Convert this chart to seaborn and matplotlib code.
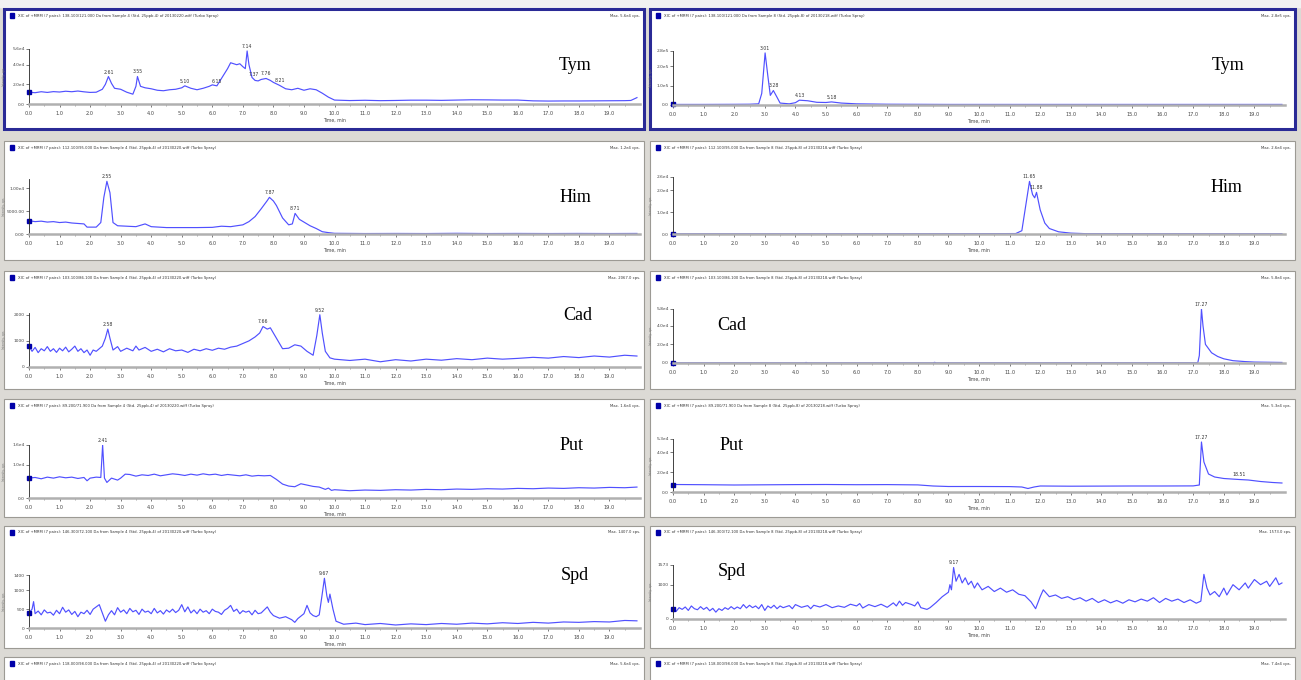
import numpy as np
import matplotlib
matplotlib.use("Agg")
import matplotlib.pyplot as plt
from matplotlib.patches import Rectangle
import seaborn as sns

# ---------------- data ----------------
compounds = ["Tym", "Him", "Cad", "Put", "Spd"]

tym_l_t = [0.0, 0.2, 0.4, 0.6, 0.8, 1.0, 1.2, 1.4, 1.6, 1.8, 2.0, 2.2, 2.4, 2.5, 2.6, 2.7, 2.8, 3.0, 3.2, 3.4, 3.5, 3.55, 3.65, 3.8, 4.0, 4.2, 4.4, 4.6, 4.8, 5.0, 5.1, 5.3, 5.5, 5.7, 5.9, 6.0, 6.15, 6.3, 6.5, 6.6, 6.7, 6.8, 6.9, 7.0, 7.08, 7.14, 7.2, 7.3, 7.4, 7.5, 7.6, 7.76, 7.9, 8.0, 8.2, 8.4, 8.6, 8.8, 9.0, 9.2, 9.4, 9.6, 9.8, 10.0, 10.5, 11.0, 11.5, 12.0, 12.5, 13.0, 13.5, 14.0, 14.5, 15.0, 15.5, 16.0, 16.5, 17.0, 17.5, 18.0, 18.5, 19.0, 19.5, 19.7, 19.9]
tym_l_y = [12000, 11500, 12500, 11800, 12600, 12200, 13000, 12500, 13200, 12400, 11800, 12000, 15000, 20000, 28000, 21000, 16000, 15000, 12000, 10000, 18000, 28000, 18000, 16500, 15500, 14000, 13500, 14500, 15000, 16500, 18500, 16000, 14500, 16000, 18000, 19500, 18500, 26000, 36000, 42000, 41000, 40000, 41000, 38000, 36000, 54000, 40000, 27000, 24000, 23500, 25000, 26000, 24000, 22000, 19000, 15500, 14500, 16000, 14000, 15500, 14500, 11000, 7000, 4000, 3500, 3800, 3400, 3600, 3900, 3900, 3700, 4000, 4300, 4200, 4000, 4000, 3200, 3000, 3100, 3100, 3200, 3300, 3400, 3600, 6500]

him_l_t = [0.0, 0.2, 0.4, 0.6, 0.8, 1.0, 1.2, 1.4, 1.6, 1.8, 1.9, 2.2, 2.35, 2.45, 2.55, 2.65, 2.75, 2.9, 3.2, 3.5, 3.8, 4.0, 4.5, 5.0, 5.5, 6.0, 6.3, 6.6, 7.0, 7.2, 7.4, 7.6, 7.8, 7.87, 8.0, 8.1, 8.3, 8.5, 8.62, 8.71, 8.85, 9.0, 9.2, 9.4, 9.6, 9.8, 10.0, 11.0, 12.0, 13.0, 14.0, 15.0, 16.0, 17.0, 18.0, 19.0, 19.9]
him_l_y = [2900, 2700, 2800, 2600, 2700, 2500, 2600, 2400, 2300, 2200, 1500, 1500, 2500, 8000, 11500, 9000, 2500, 1800, 1700, 1600, 2200, 1600, 1400, 1400, 1400, 1450, 1700, 1600, 2000, 2700, 3800, 5500, 7300, 8000, 7200, 6200, 3500, 2000, 2200, 4500, 3200, 2600, 1800, 1200, 500, 300, 150, 100, 120, 100, 150, 100, 120, 100, 120, 100, 120]

cad_l_t = [0.0, 0.1, 0.2, 0.3, 0.4, 0.5, 0.6, 0.7, 0.8, 0.9, 1.0, 1.1, 1.2, 1.3, 1.4, 1.5, 1.6, 1.7, 1.8, 1.9, 2.0, 2.1, 2.2, 2.3, 2.4, 2.5, 2.58, 2.65, 2.75, 2.9, 3.0, 3.2, 3.4, 3.5, 3.6, 3.8, 4.0, 4.2, 4.4, 4.6, 4.8, 5.0, 5.2, 5.4, 5.6, 5.8, 6.0, 6.2, 6.4, 6.6, 6.8, 7.0, 7.2, 7.4, 7.55, 7.66, 7.8, 7.9, 8.0, 8.1, 8.3, 8.5, 8.7, 8.9, 9.1, 9.3, 9.42, 9.52, 9.6, 9.7, 9.85, 10.0, 10.5, 11.0, 11.5, 12.0, 12.5, 13.0, 13.5, 14.0, 14.5, 15.0, 15.5, 16.0, 16.5, 17.0, 17.5, 18.0, 18.5, 19.0, 19.5, 19.9]
cad_l_y = [800, 600, 750, 550, 700, 620, 780, 600, 700, 560, 720, 620, 760, 580, 680, 800, 600, 700, 550, 650, 450, 650, 600, 700, 800, 1100, 1450, 1100, 650, 780, 600, 720, 620, 800, 650, 750, 600, 680, 580, 700, 620, 650, 560, 680, 620, 700, 640, 720, 680, 760, 800, 900, 1000, 1150, 1300, 1550, 1450, 1500, 1300, 1100, 700, 720, 850, 800, 600, 450, 1200, 2000, 1300, 600, 350, 300, 250, 300, 200, 280, 230, 300, 260, 320, 280, 340, 300, 330, 370, 340, 400, 360, 420, 380, 450, 420]

put_l_t = [0.0, 0.2, 0.4, 0.6, 0.8, 1.0, 1.2, 1.4, 1.6, 1.8, 1.9, 2.0, 2.2, 2.35, 2.41, 2.47, 2.55, 2.7, 2.9, 3.0, 3.15, 3.3, 3.5, 3.7, 3.9, 4.1, 4.3, 4.5, 4.7, 4.9, 5.1, 5.3, 5.5, 5.7, 5.9, 6.1, 6.3, 6.5, 6.7, 6.9, 7.1, 7.3, 7.5, 7.7, 7.9, 8.1, 8.3, 8.5, 8.7, 8.9, 9.1, 9.3, 9.5, 9.7, 9.8, 9.9, 10.0, 10.5, 11.0, 11.5, 12.0, 12.5, 13.0, 13.5, 14.0, 14.5, 15.0, 15.5, 16.0, 16.5, 17.0, 17.5, 18.0, 18.5, 19.0, 19.5, 19.9]
put_l_y = [6000, 6200, 5800, 6300, 6000, 6400, 6100, 6300, 5900, 6200, 5200, 6000, 6300, 6200, 16000, 6000, 4700, 6000, 5400, 6000, 7200, 7100, 6600, 7000, 6800, 7200, 6700, 7000, 7300, 7100, 6800, 7200, 6900, 7300, 7000, 7200, 6800, 7100, 6900, 6700, 7000, 6600, 6800, 6700, 6800, 5600, 4200, 3600, 3400, 4300, 3900, 3500, 3300, 2600, 3000, 2300, 2500, 2200, 2400, 2300, 2500, 2400, 2600, 2500, 2700, 2600, 2800, 2700, 2900, 2800, 3000, 2900, 3100, 3000, 3200, 3100, 3300]

spd_l_t = [0.0, 0.1, 0.15, 0.2, 0.3, 0.4, 0.5, 0.6, 0.7, 0.8, 0.9, 1.0, 1.1, 1.2, 1.3, 1.4, 1.5, 1.6, 1.7, 1.8, 1.9, 2.0, 2.1, 2.2, 2.3, 2.4, 2.5, 2.6, 2.7, 2.8, 2.9, 3.0, 3.1, 3.2, 3.3, 3.4, 3.5, 3.6, 3.7, 3.8, 3.9, 4.0, 4.1, 4.2, 4.3, 4.4, 4.5, 4.6, 4.7, 4.8, 4.9, 5.0, 5.1, 5.2, 5.3, 5.4, 5.5, 5.6, 5.7, 5.8, 5.9, 6.0, 6.1, 6.2, 6.3, 6.4, 6.5, 6.6, 6.7, 6.8, 6.9, 7.0, 7.1, 7.2, 7.3, 7.4, 7.5, 7.6, 7.8, 7.9, 8.0, 8.2, 8.4, 8.6, 8.7, 8.8, 9.0, 9.1, 9.2, 9.3, 9.4, 9.5, 9.58, 9.67, 9.75, 9.8, 9.85, 9.95, 10.05, 10.3, 10.7, 11.0, 11.5, 12.0, 12.5, 13.0, 13.5, 14.0, 14.5, 15.0, 15.5, 16.0, 16.5, 17.0, 17.5, 18.0, 18.5, 19.0, 19.5, 19.9]
spd_l_y = [400, 500, 700, 380, 450, 350, 480, 400, 420, 340, 470, 380, 550, 420, 480, 360, 440, 300, 420, 380, 470, 360, 500, 560, 620, 400, 180, 350, 460, 350, 540, 420, 480, 380, 520, 430, 470, 360, 500, 420, 450, 380, 520, 400, 460, 370, 480, 420, 500, 410, 470, 620, 430, 560, 400, 480, 380, 500, 420, 460, 380, 500, 440, 420, 360, 470, 520, 600, 440, 500, 380, 460, 420, 450, 350, 470, 380, 400, 560, 420, 330, 260, 300, 220, 150, 250, 380, 600, 400, 330, 300, 350, 800, 1320, 850, 680, 900, 500, 180, 100, 130, 90, 120, 80, 110, 90, 120, 100, 130, 110, 140, 120, 150, 130, 160, 150, 170, 160, 200, 190]

tym_r_t = [0.0, 1.0, 2.0, 2.5, 2.8, 2.9, 3.01, 3.1, 3.18, 3.28, 3.4, 3.5, 3.8, 4.0, 4.13, 4.4, 4.7, 5.0, 5.18, 5.5, 6.0, 7.0, 8.0, 9.0, 10.0, 12.0, 14.0, 16.0, 18.0, 19.9]
tym_r_y = [3000, 3000, 3500, 4000, 6000, 60000, 270000, 150000, 50000, 75000, 40000, 10000, 6000, 12000, 25000, 22000, 14000, 13000, 16000, 10000, 6000, 4000, 3500, 3000, 3000, 3000, 3000, 3000, 3000, 3000]

him_r_t = [0.0, 5.0, 10.0, 11.2, 11.4, 11.55, 11.65, 11.75, 11.82, 11.88, 12.0, 12.15, 12.3, 12.6, 13.0, 13.5, 19.9]
him_r_y = [100, 100, 150, 200, 1500, 15000, 24000, 18000, 16500, 19000, 11000, 5000, 2500, 1000, 400, 150, 100]

cad_r_t = [0.0, 4.3, 4.35, 4.4, 8.5, 8.55, 8.6, 17.15, 17.2, 17.27, 17.32, 17.4, 17.6, 17.8, 18.0, 18.3, 18.7, 19.0, 19.9]
cad_r_y = [200, 200, 600, 200, 200, 700, 200, 300, 8000, 58000, 40000, 20000, 11000, 7000, 4500, 2500, 1500, 1000, 600]

put_r_t = [0.0, 1.0, 2.0, 3.0, 4.0, 5.0, 6.0, 7.0, 8.0, 8.5, 9.0, 10.0, 11.0, 11.4, 11.6, 11.8, 12.0, 13.0, 14.0, 15.0, 16.0, 17.0, 17.2, 17.27, 17.35, 17.5, 17.7, 18.0, 18.5, 18.8, 19.2, 19.6, 19.9]
put_r_y = [7500, 7300, 7000, 7200, 7400, 7500, 7300, 7400, 7100, 6000, 5500, 5500, 5400, 5000, 3500, 5000, 6000, 5800, 5900, 6000, 6000, 6100, 7000, 50000, 30000, 18000, 15000, 13500, 12500, 12000, 10500, 9500, 9000]

spd_r_t = [0.0, 0.1, 0.2, 0.3, 0.4, 0.5, 0.6, 0.7, 0.8, 0.9, 1.0, 1.1, 1.2, 1.3, 1.4, 1.5, 1.6, 1.7, 1.8, 1.9, 2.0, 2.1, 2.2, 2.3, 2.4, 2.5, 2.6, 2.7, 2.8, 2.9, 3.0, 3.1, 3.2, 3.3, 3.4, 3.5, 3.6, 3.8, 3.9, 4.0, 4.2, 4.4, 4.5, 4.6, 4.8, 5.0, 5.2, 5.4, 5.6, 5.8, 6.0, 6.1, 6.2, 6.4, 6.6, 6.8, 7.0, 7.2, 7.3, 7.4, 7.5, 7.6, 7.8, 7.9, 8.0, 8.1, 8.3, 8.4, 8.6, 8.8, 9.0, 9.05, 9.1, 9.17, 9.25, 9.35, 9.45, 9.55, 9.65, 9.75, 9.85, 9.95, 10.1, 10.3, 10.5, 10.7, 10.9, 11.1, 11.3, 11.5, 11.7, 11.85, 12.0, 12.1, 12.3, 12.5, 12.7, 12.9, 13.1, 13.3, 13.5, 13.7, 13.9, 14.1, 14.3, 14.5, 14.7, 14.9, 15.1, 15.3, 15.5, 15.7, 15.9, 16.1, 16.3, 16.5, 16.7, 16.9, 17.1, 17.25, 17.35, 17.45, 17.55, 17.7, 17.85, 18.0, 18.1, 18.3, 18.5, 18.7, 18.8, 19.0, 19.2, 19.4, 19.5, 19.7, 19.8, 19.9]
spd_r_y = [300, 220, 330, 280, 350, 250, 380, 300, 270, 360, 280, 340, 240, 310, 200, 300, 250, 330, 280, 360, 290, 350, 300, 420, 320, 400, 330, 380, 300, 420, 250, 380, 320, 400, 300, 380, 330, 390, 300, 420, 340, 390, 300, 400, 350, 420, 330, 380, 340, 430, 380, 450, 320, 420, 360, 430, 340, 470, 380, 520, 400, 480, 420, 380, 500, 330, 280, 330, 480, 650, 780, 1000, 850, 1500, 1100, 1300, 1050, 1200, 1000, 1100, 900, 1050, 850, 950, 800, 900, 780, 850, 720, 680, 500, 300, 650, 850, 650, 700, 600, 650, 560, 620, 520, 600, 480, 560, 470, 540, 460, 560, 500, 580, 520, 620, 480, 600, 520, 580, 480, 560, 460, 520, 1300, 900, 700, 800, 650, 900, 700, 1000, 850, 1050, 900, 1150, 1000, 1100, 950, 1200, 1000, 1050]

# peak labels (retention times)
peaks_tym_l = ["2.61", "3.55", "5.10", "6.15", "7.14", "7.37", "7.76", "8.21"]
peaks_him_l = ["2.55", "7.87", "8.71"]
peaks_cad_l = ["2.58", "7.66", "9.52"]
peaks_put_l = ["2.41"]
peaks_spd_l = ["9.67"]
peaks_tym_r = ["3.01", "3.28", "4.13", "5.18"]
peaks_him_r = ["11.65", "11.88"]
peaks_cad_r = ["17.27"]
peaks_put_r = ["17.27", "18.51"]
peaks_spd_r = ["9.17"]

# axis maxima (cps) and y tick labels
ymax_l = [5.6e4, 1.2e4, 2067.0, 1.6e4, 1407.0]
ymax_r = [2.8e5, 2.6e4, 5.8e4, 5.3e4, 1573.0]
yticks_l = [[0, 2.0e4, 4.0e4, 5.6e4], [0, 5000, 1.0e4], [0, 1000, 2000], [0, 1.0e4, 1.6e4], [0, 500, 1000, 1400]]
ytlab_l = [["0.0", "2.0e4", "4.0e4", "5.6e4"], ["0.00", "5000.00", "1.00e4"], ["0", "1000", "2000"], ["0.0", "1.0e4", "1.6e4"], ["0", "500", "1000", "1400"]]
yticks_r = [[0, 1.0e5, 2.0e5, 2.8e5], [0, 1.0e4, 2.0e4, 2.6e4], [0, 2.0e4, 4.0e4, 5.8e4], [0, 2.0e4, 4.0e4, 5.3e4], [0, 1000, 1573]]
ytlab_r = [["0.0", "1.0e5", "2.0e5", "2.8e5"], ["0.0", "1.0e4", "2.0e4", "2.6e4"], ["0.0", "2.0e4", "4.0e4", "5.8e4"], ["0.0", "2.0e4", "4.0e4", "5.3e4"], ["0", "1000", "1573"]]

transitions = ["138.100/121.000", "112.100/95.000", "103.100/86.100", "89.200/71.900", "146.300/72.100", "118.000/98.000"]
max_l = ["Max. 5.6e4 cps.", "Max. 1.2e4 cps.", "Max. 2067.0 cps.", "Max. 1.6e4 cps.", "Max. 1407.0 cps.", "Max. 5.6e4 cps."]
max_r = ["Max. 2.8e5 cps.", "Max. 2.6e4 cps.", "Max. 5.8e4 cps.", "Max. 5.3e4 cps.", "Max. 1573.0 cps.", "Max. 7.4e4 cps."]

left_series = [(tym_l_t, tym_l_y, peaks_tym_l), (him_l_t, him_l_y, peaks_him_l),
               (cad_l_t, cad_l_y, peaks_cad_l), (put_l_t, put_l_y, peaks_put_l),
               (spd_l_t, spd_l_y, peaks_spd_l)]
right_series = [(tym_r_t, tym_r_y, peaks_tym_r), (him_r_t, him_r_y, peaks_him_r),
                (cad_r_t, cad_r_y, peaks_cad_r), (put_r_t, put_r_y, peaks_put_r),
                (spd_r_t, spd_r_y, peaks_spd_r)]

# ---------------- layout (pixels) ----------------
W, H = 1301, 680
fig = plt.figure(figsize=(W / 100, H / 100), dpi=100)
fig.patch.set_facecolor("#dcdad5")

bg = fig.add_axes([0, 0, 1, 1])
bg.set_xlim(0, W)
bg.set_ylim(H, 0)
bg.axis("off")

BLUE_FRAME = "#2a2a96"
TRACE = "#5050ff"

bg.add_patch(Rectangle((0, 0), W, 7, color="#f2f2f2", zorder=0))
rows = [(9, 129), (141, 260), (271, 389), (399, 517), (526, 648), (657, 690)]
cols = [(4, 644), (650, 1295)]
for ri, (y0, y1) in enumerate(rows):
    for ci, (x0, x1) in enumerate(cols):
        ec = BLUE_FRAME if ri == 0 else "#9c9a94"
        lw = 2.2 if ri == 0 else 0.8
        bg.add_patch(Rectangle((x0, y0), x1 - x0, y1 - y0, facecolor="white",
                               edgecolor=ec, linewidth=lw, zorder=1))
        ix = x0 + 6
        bg.add_patch(Rectangle((ix, y0 + 4), 4, 5, color="#0000a8", zorder=2))
        sample = "Sample 4 (Std. 25ppb-4) of 20130220.wiff" if ci == 0 else "Sample 8 (Std. 25ppb-8) of 20130218.wiff"
        bg.text(ix + 8, y0 + 6.5, f"XIC of +MRM (7 pairs): {transitions[ri]} Da from {sample} (Turbo Spray)",
                fontsize=2.7, color="#333333", va="center", ha="left", zorder=3)
        mx = max_l[ri] if ci == 0 else max_r[ri]
        bg.text(x1 - 4, y0 + 6.5, mx, fontsize=2.7, color="#333333", va="center", ha="right", zorder=3)

# axes pixel boxes: (x at 0 min, x at 20 min, y at ymax, y at 0)
ax_px_l = [(29, 640, 49, 104), (29, 640, 179, 234), (29, 640, 313, 367), (29, 640, 445, 498), (29, 640, 575, 628)]
ax_px_r = [(673, 1285, 51, 105), (673, 1285, 177, 234), (673, 1285, 309, 363), (673, 1285, 439, 492), (673, 1285, 565, 619)]
label_pos_l = [(575, 66), (575, 198), (578, 316), (572, 446), (575, 576)]
label_pos_r = [(1228, 66), (1226, 188), (732, 326), (732, 446), (732, 572)]
ylabel_x = [6, 653]


def px_axes(x0, x1, ytop, ybot):
    return fig.add_axes([x0 / W, 1 - ybot / H, (x1 - x0) / W, (ybot - ytop) / H])


for ci, (series, boxes, ymaxes, ytks, ytls, lpos) in enumerate([
        (left_series, ax_px_l, ymax_l, yticks_l, ytlab_l, label_pos_l),
        (right_series, ax_px_r, ymax_r, yticks_r, ytlab_r, label_pos_r)]):
    for ri in range(5):
        t, v, pk = series[ri]
        x0, x1, yt, yb = boxes[ri]
        ax = px_axes(x0, x1, yt, yb)
        ax.set_facecolor("none")
        sns.lineplot(x=t, y=v, ax=ax, color=TRACE, linewidth=0.85, estimator=None,
                     sort=False, legend=False)
        ax.plot([t[0]], [v[0]], marker="s", markersize=2.2, color="#0000a8", clip_on=False)
        ax.set_xlim(0, 20)
        ax.set_ylim(0, ymaxes[ri])
        ax.set_xticks(np.arange(0, 20, 1.0))
        ax.set_xticklabels([f"{x:.1f}" for x in np.arange(0, 20, 1.0)])
        ax.set_xticks(np.arange(0.5, 20, 1.0), minor=True)
        ax.set_yticks(ytks[ri])
        ax.set_yticklabels(ytls[ri])
        ax.tick_params(axis="x", which="major", labelsize=3.6, length=2.5, width=0.5,
                       pad=2.5, colors="#444444")
        ax.tick_params(axis="x", which="minor", length=1.5, width=0.4, colors="#666666")
        ax.tick_params(axis="y", labelsize=3.2, length=2, width=0.5, pad=1, colors="#444444")
        ax.set_xlabel("Time, min", fontsize=3.3, labelpad=1.5, color="#444444")
        ax.set_ylabel("Intensity, cps", fontsize=2.0, color="#777777")
        ax.yaxis.set_label_coords((ylabel_x[ci] - x0) / (x1 - x0), 0.5)
        for s in ("top", "right"):
            ax.spines[s].set_visible(False)
        ax.spines["left"].set_linewidth(0.6)
        ax.spines["left"].set_color("#222222")
        ax.spines["bottom"].set_linewidth(1.8)
        ax.spines["bottom"].set_color("#b0b0b0")
        for lab in pk:
            tp = float(lab)
            yp = np.interp(tp, t, v)
            ax.annotate(lab, (tp, yp), xytext=(0, 1.5), textcoords="offset points",
                        ha="center", va="bottom", fontsize=3.3, color="#333333")
        lx, ly = lpos[ri]
        bg.text(lx, ly, compounds[ri], fontsize=13, family="Liberation Serif",
                ha="center", va="center", color="black", zorder=5)

fig.savefig("out.png", dpi=100, facecolor=fig.get_facecolor())
